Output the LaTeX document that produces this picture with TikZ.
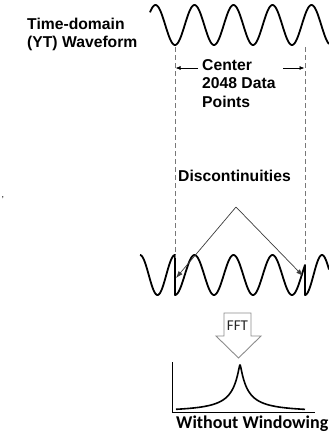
\documentclass[tikz,border=0pt]{standalone}
\usepackage{fontspec}
\setmainfont{Liberation Sans}
\newfontfamily\calib{Carlito}
\usetikzlibrary{arrows.meta}
\definecolor{dashgray}{RGB}{120,120,120}
\definecolor{arrgray}{RGB}{60,60,60}
\definecolor{fftgray}{RGB}{140,140,140}
\tikzset{
  lbl/.style={anchor=base west, inner sep=0pt, font=\fontsize{15.7}{18}\selectfont\bfseries},
  wave/.style={line width=1.8pt, line join=round, smooth},
  guide/.style={dashgray, line width=0.6pt, dash pattern=on 5pt off 3pt},
  dimarrow/.style={black, line width=0.7pt, -{Latex[length=5pt,width=4pt]}},
  discarrow/.style={arrgray, line width=0.7pt, -{Latex[length=7pt,width=5pt]}},
}
\begin{document}
\begin{tikzpicture}[x=1pt,y=-1pt]
\useasboundingbox (0,0) rectangle (329,434);
% labels
\node[lbl] (t1) at (27,29.5) {Time-domain};
\node[lbl] (t2) at (27,47) {(YT) Waveform};
\node[lbl] (c1) at (202,70) {Center};
\node[lbl] (c2) at (202,88.5) {2048 Data};
\node[lbl] (c3) at (202,107) {Points};
\node[lbl] (disc) at (178,181) {Discontinuities};
\node[anchor=base west, inner sep=0pt, font=\fontsize{18}{20}\selectfont\calib\bfseries] (ww) at (176,428) {Without Windowing};
\node[anchor=base west, inner sep=0pt, font=\fontsize{9}{10}\selectfont] (cm) at (1.5,197) {,};
% top waveform
\draw[wave] plot[domain=150:329, samples=220] (\x, {25 + 20*cos((\x-175)/39*360)});
% bottom waveform
\draw[wave] plot[domain=140:175, samples=60] (\x, {275 - 20*cos((\x-140)/35*360)})
  -- plot[domain=175:305, samples=200] (\x, {275 + 20*cos((\x-175)/39*360)})
  -- plot[domain=305:329, samples=50] (\x, {275 + 20*cos((\x-305)/34*360)});
% guide lines
\coordinate (gLt) at (175,47);
\coordinate (gLb) at (175,258);
\coordinate (gRt) at (305,47);
\coordinate (gRb) at (305,260);
\draw[guide] (gLt) -- (gLb);
\draw[guide] (gRt) -- (gRb);
% dimension arrows
\coordinate (aL0) at (198,68);
\coordinate (aL1) at (175.5,68);
\coordinate (aR0) at (283,68);
\coordinate (aR1) at (304.5,68);
\draw[dimarrow] (aL0) -- (aL1);
\draw[dimarrow] (aR0) -- (aR1);
% discontinuity arrows
\coordinate (apex) at (236,207);
\coordinate (dL) at (176,278);
\coordinate (dR) at (303,276);
\draw[discarrow] (apex) -- (dL);
\draw[discarrow] (apex) -- (dR);
% FFT block arrow
\draw[fftgray, line width=0.9pt, line join=miter] (224,313) -- (251,313) -- (251,336) -- (261,336) -- (238.5,358) -- (216,336) -- (224,336) -- cycle;
\node[inner sep=0pt, text=black!85, font=\fontsize{15}{16}\selectfont\calib] (fft) at (237.5,325.5) {FFT};
% spectrum
\coordinate (ax0) at (172,362);
\coordinate (ax1) at (172,412);
\coordinate (ax2) at (315,412);
\draw[black, line width=0.8pt] (ax0) -- (ax1) -- (ax2);
\draw[line width=1.6pt, smooth] plot[domain=176:305, samples=260] (\x, {412 - 51/((1+sqrt((\x-240)*(\x-240)+0.3)/10.5)^1.5)});
\end{tikzpicture}
\end{document}
